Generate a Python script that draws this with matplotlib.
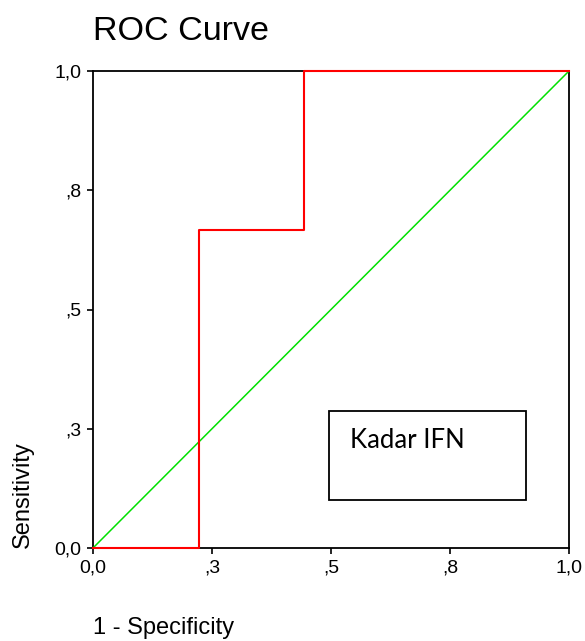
import matplotlib
matplotlib.use("Agg")
import matplotlib.pyplot as plt
from matplotlib.patches import Rectangle

# Data
fpr = [0.0, 0.222, 0.222, 0.444, 0.444, 1.0]
tpr = [0.0, 0.0, 0.667, 0.667, 1.0, 1.0]
ref = [0.0, 1.0]
tick_vals = [0.0, 0.25, 0.5, 0.75, 1.0]
tick_labels = ["0,0", ",3", ",5", ",8", "1,0"]
legend_label = "Kadar IFN"

W, H = 585, 641
fig = plt.figure(figsize=(W / 100, H / 100), dpi=100)
ax = fig.add_axes([93 / W, 1 - 548 / H, (569 - 93) / W, (548 - 71) / H])

ax.plot(ref, ref, color="#00e000", lw=1.1, zorder=3)
ax.plot(fpr, tpr, color="#ff0000", lw=1.5, zorder=4, clip_on=False)

ax.set_xlim(0, 1)
ax.set_ylim(0, 1)
ax.set_xticks(tick_vals)
ax.set_xticklabels(tick_labels)
ax.set_yticks(tick_vals)
ax.set_yticklabels(tick_labels)
ax.tick_params(direction="out", length=4.5, width=1.2, labelsize=14, pad=4)
for lab in ax.get_xticklabels() + ax.get_yticklabels():
    lab.set_fontfamily("Liberation Sans")
for s in ax.spines.values():
    s.set_linewidth(1.3)
    s.set_color("black")

# legend box (figure pixel coords converted to fractions)
box = Rectangle((329 / W, 1 - 500 / H), (526 - 329) / W, (500 - 411) / H,
                transform=fig.transFigure, fill=False, lw=1.3, ec="black")
fig.add_artist(box)
fig.text(350 / W, 1 - 441 / H, legend_label, fontsize=18.5, family="Open Sans",
         ha="left", va="center") if False else fig.text(
    350 / W, 1 - 441 / H, legend_label, fontsize=18.5, family="Lato",
    ha="left", va="center")

fig.text(93 / W, 1 - 31 / H, "ROC Curve", fontsize=24.5, family="Liberation Sans",
         ha="left", va="center")
fig.text(23 / W, 1 - 495 / H, "Sensitivity", fontsize=17, family="Liberation Sans",
         rotation=90, ha="center", va="center")
fig.text(93 / W, 1 - 628 / H, "1 - Specificity", fontsize=17, family="Liberation Sans",
         ha="left", va="center")

fig.savefig("out.png", dpi=100)
